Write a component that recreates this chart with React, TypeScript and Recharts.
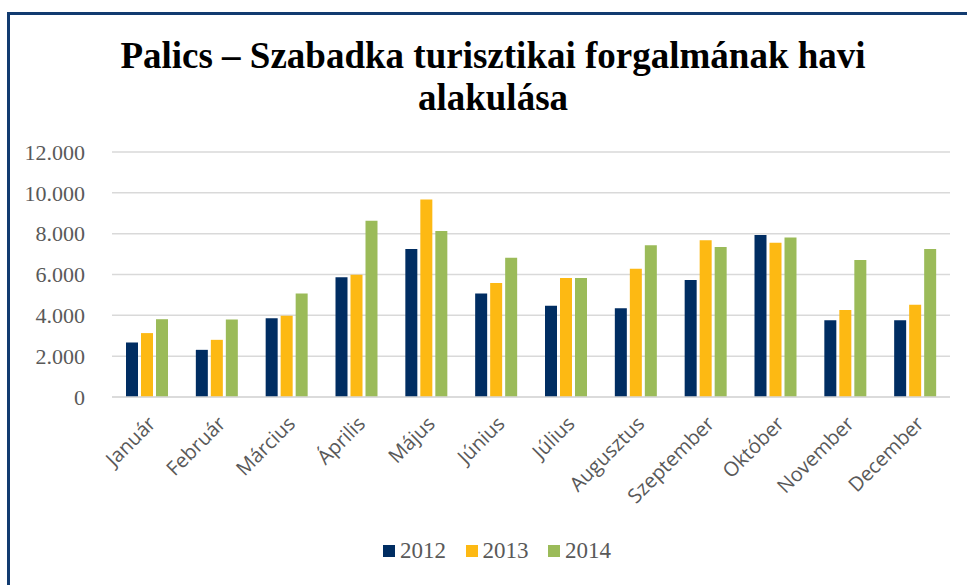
import React from "react";
import { BarChart, Bar, XAxis, YAxis, CartesianGrid, Legend } from "recharts";

const months = ["Január", "Február", "Március", "Április", "Május", "Június", "Július", "Augusztus", "Szeptember", "Október", "November", "December"];
const v2012 = [2670, 2310, 3860, 5860, 7250, 5070, 4470, 4350, 5730, 7940, 3760, 3760];
const v2013 = [3130, 2800, 3980, 5990, 9670, 5580, 5830, 6280, 7680, 7560, 4260, 4520];
const v2014 = [3810, 3800, 5070, 8630, 8130, 6820, 5830, 7430, 7350, 7810, 6710, 7250];
const yTicks = [0, 2000, 4000, 6000, 8000, 10000, 12000];
const seriesNames = ["2012", "2013", "2014"];
const seriesColors = ["#002D62", "#FDB913", "#9BBB59"];

const data = months.map((m, i) => ({ month: m, "2012": v2012[i], "2013": v2013[i], "2014": v2014[i] }));

const fmt = (v: number) => (v === 0 ? "0" : `${Math.floor(v / 1000)}.${String(v % 1000).padStart(3, "0")}`);

const XTick = (props: any) => {
  const { x, y, payload } = props;
  return (
    <text
      transform={`translate(${x + 5},${y + 15}) rotate(-45)`}
      textAnchor="end"
      dy="0.35em"
      fill="#595959"
      fontFamily="'Open Sans', sans-serif"
      fontSize={20}
    >
      {payload.value}
    </text>
  );
};

const LegendContent = () => (
  <div style={{ display: "flex", justifyContent: "flex-start", fontFamily: "'Liberation Serif', 'Times New Roman', serif", fontSize: 23, color: "#595959" }}>
    {seriesNames.map((n, i) => (
      <div key={n} style={{ display: "flex", alignItems: "center", width: 82.5 }}>
        <span style={{ display: "inline-block", width: 12, height: 12, background: seriesColors[i], marginRight: 5 }} />
        <span>{n}</span>
      </div>
    ))}
  </div>
);

export default function App() {
  return (
    <div style={{ position: "absolute", left: 0, top: 0, width: 967, height: 585, overflow: "hidden", background: "#fff" }}>
      <div style={{ position: "absolute", left: 7, top: 12, width: 1000, height: 700, borderTop: "3px solid #123B70", borderLeft: "3px solid #123B70", boxSizing: "border-box" }} />
      <div
        style={{
          position: "absolute",
          left: 0,
          top: 35,
          width: 986,
          textAlign: "center",
          fontFamily: "'Liberation Serif', 'Times New Roman', serif",
          fontWeight: "bold",
          fontSize: 37,
          lineHeight: "42px",
          color: "#000",
        }}
      >
        Palics – Szabadka turisztikai forgalmának havi
        <br />
        alakulása
      </div>
      <div style={{ position: "absolute", left: 0, top: 0 }}>
        <BarChart width={967} height={585} data={data} margin={{ top: 152, right: 17, left: 0, bottom: 88 }} barSize={12} barGap={3}>
          <CartesianGrid vertical={false} stroke="#D9D9D9" strokeWidth={1.5} />
          <XAxis dataKey="month" height={100} tick={<XTick />} tickLine={false} axisLine={{ stroke: "#D9D9D9", strokeWidth: 1.5 }} interval={0} />
          <YAxis
            width={112}
            domain={[0, 12000]}
            ticks={yTicks}
            tickFormatter={fmt}
            tickLine={false}
            axisLine={false}
            tickMargin={21}
            tick={{ fill: "#595959", fontFamily: "'Liberation Serif', 'Times New Roman', serif", fontSize: 22 }}
          />
          <Legend layout="horizontal" verticalAlign="middle" align="center" content={<LegendContent />} wrapperStyle={{ top: 538, left: 383, width: 260, height: 30 }} />
          {seriesNames.map((n, i) => (
            <Bar key={n} dataKey={n} fill={seriesColors[i]} isAnimationActive={false} />
          ))}
        </BarChart>
      </div>
    </div>
  );
}
